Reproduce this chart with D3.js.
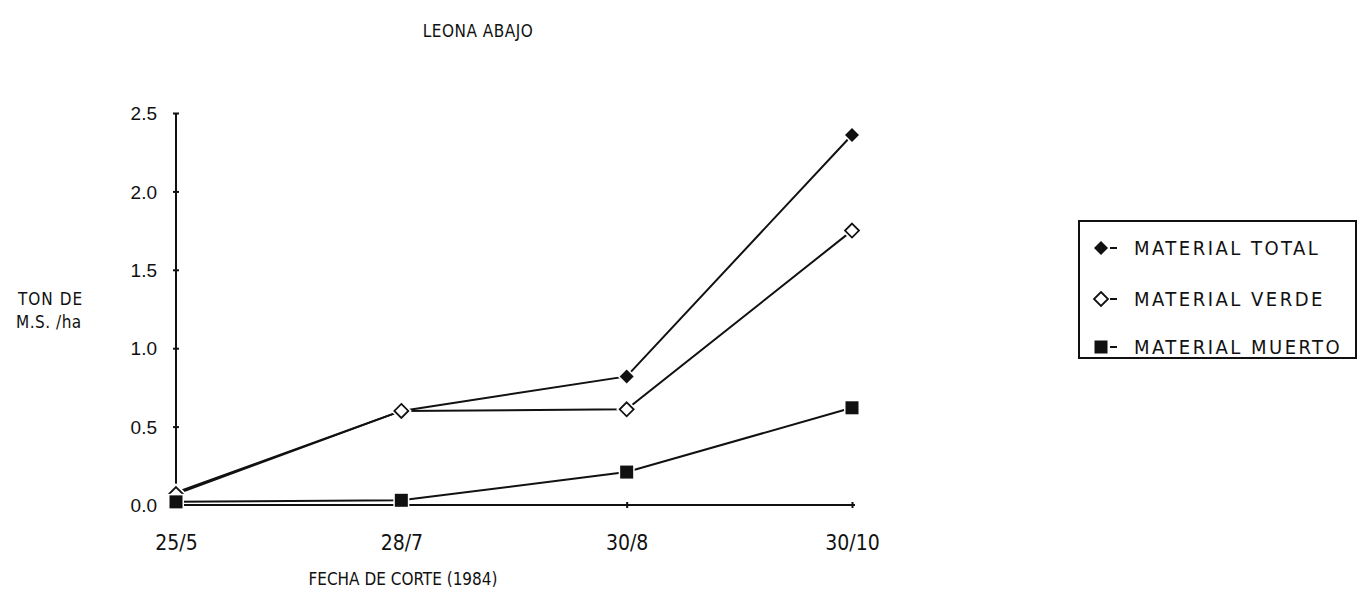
<!DOCTYPE html>
<html><head><meta charset="utf-8">
<script src="https://cdn.jsdelivr.net/npm/d3@7"></script>
<style>
body{margin:0;background:#fff;}
text{font-family:"Liberation Sans Narrow","DejaVu Sans Condensed","Liberation Sans",sans-serif;fill:#111;}
</style></head>
<body><svg id="c" width="1361" height="595"></svg>
<script>
const categories = ["25/5","28/7","30/8","30/10"];
const total  = [0.08, 0.60, 0.82, 2.36];
const verde  = [0.07, 0.60, 0.61, 1.75];
const muerto = [0.02, 0.03, 0.21, 0.62];
const yTicks = [0, 0.5, 1.0, 1.5, 2.0, 2.5];
const seriesNames = ["MATERIAL TOTAL","MATERIAL VERDE","MATERIAL MUERTO"];
const seriesData = [total, verde, muerto];
const markerTypes = ["diamondFilled","diamondOpen","square"];

const svg = d3.select("#c");
const x = d3.scalePoint().domain(categories).range([176, 852]);
const y = d3.scaleLinear().domain([0, 2.5]).range([505, 113]);

// title
svg.append("text").attr("x", 478).attr("y", 37).attr("text-anchor","middle")
  .style("font-size","17px").style("letter-spacing","0.5px").text("LEONA ABAJO");

// y axis
const yAxis = d3.axisLeft(y).tickValues(yTicks).tickFormat(d3.format(".1f")).tickSize(4).tickPadding(15);
const gy = svg.append("g").attr("transform","translate(176,0)").call(yAxis);
gy.select(".domain").attr("stroke","#111").attr("stroke-width",2).attr("d","M0,"+y(2.5)+"V"+y(0));
gy.selectAll(".tick line").attr("stroke","#111").attr("stroke-width",2).attr("x1",3).attr("x2",-3);
gy.selectAll(".tick text").style("font-family","'Liberation Sans',sans-serif").style("font-size","19px").attr("dy","0.35em");

// x axis
const xAxis = d3.axisBottom(x).tickSize(4).tickPadding(26);
const gx = svg.append("g").attr("transform","translate(0,505)").call(xAxis);
gx.select(".domain").attr("stroke","#111").attr("stroke-width",2).attr("d","M176,0H855");
gx.selectAll(".tick line").attr("stroke","#111").attr("stroke-width",2).attr("y1",-3).attr("y2",3);
gx.selectAll(".tick text").style("font-size","21px");

// axis titles
svg.append("text").attr("x", 403).attr("y", 585).attr("text-anchor","middle")
  .style("font-size","17px").text("FECHA DE CORTE (1984)");
svg.append("text").attr("x", 18).attr("y", 305).style("font-size","17px").style("letter-spacing","1px").text("TON DE");
svg.append("text").attr("x", 16).attr("y", 328).style("font-size","17px").style("letter-spacing","0.5px").text("M.S. /ha");

// lines
const line = d3.line().x((d,i)=>x(categories[i])).y(d=>y(d));
seriesData.forEach(s=>{
  svg.append("path").datum(s).attr("d", line).attr("fill","none")
    .attr("stroke","#111").attr("stroke-width",2);
});

function drawMarker(g, type, cx, cy){
  if(type==="square"){
    g.append("rect").attr("x",cx-6.5).attr("y",cy-6.5).attr("width",13).attr("height",13)
      .attr("fill","#111").attr("stroke","#fff").attr("stroke-width",3).attr("paint-order","stroke");
  } else {
    const r = 7;
    const pts = [[cx,cy-r],[cx+r,cy],[cx,cy+r],[cx-r,cy]].map(p=>p.join(",")).join(" ");
    if(type==="diamondFilled"){
      g.append("polygon").attr("points",pts).attr("fill","#111").attr("stroke","#fff").attr("stroke-width",3).attr("paint-order","stroke");
    } else {
      g.append("polygon").attr("points",pts).attr("fill","#fff").attr("stroke","#fff").attr("stroke-width",5);
      g.append("polygon").attr("points",pts).attr("fill","#fff").attr("stroke","#111").attr("stroke-width",1.8);
    }
  }
}
seriesData.forEach((s,k)=>{
  const g = svg.append("g");
  s.forEach((v,i)=> drawMarker(g, markerTypes[k], x(categories[i]), y(v)));
});

// legend
const lg = svg.append("g");
lg.append("rect").attr("x",1079).attr("y",221).attr("width",277).attr("height",137)
  .attr("fill","none").attr("stroke","#111").attr("stroke-width",2);
const legY = [248, 299, 347];
seriesNames.forEach((n,k)=>{
  drawMarker(lg, markerTypes[k], 1101, legY[k]);
  lg.append("line").attr("x1",1110).attr("x2",1117).attr("y1",legY[k]).attr("y2",legY[k])
    .attr("stroke","#111").attr("stroke-width",2);
  lg.append("text").attr("x",1134).attr("y",legY[k]).attr("dy","0.35em")
    .style("font-size","20px").style("letter-spacing","2.5px").text(n);
});
</script></body></html>
